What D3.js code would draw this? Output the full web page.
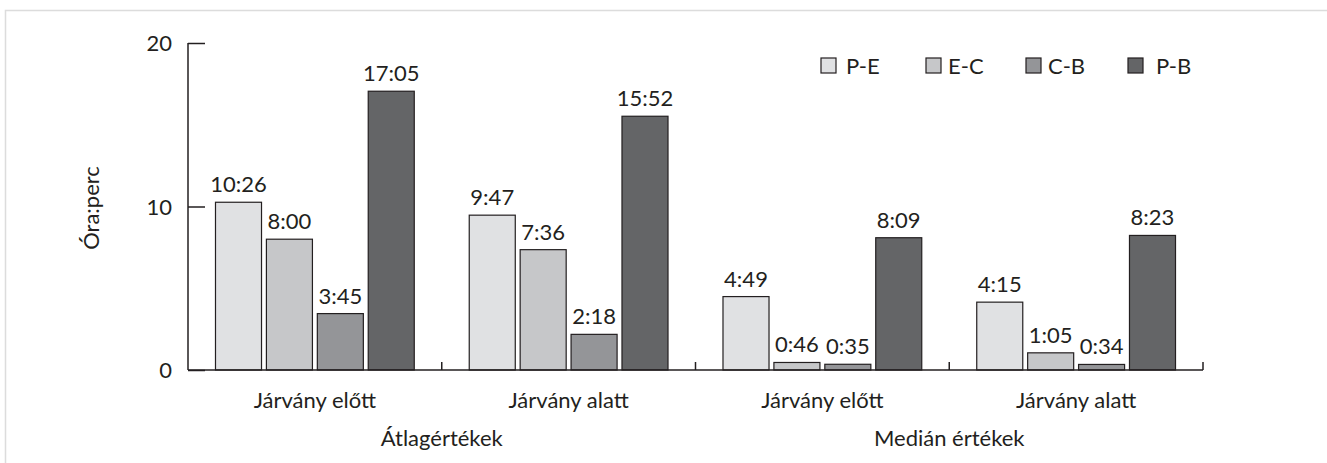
<!DOCTYPE html>
<html>
<head>
<meta charset="utf-8">
<script src="https://cdn.jsdelivr.net/npm/d3@7"></script>
<style>
  html, body { margin: 0; padding: 0; background: #fff; }
  svg { display: block; font-family: Lato, "Noto Sans", sans-serif; }
</style>
</head>
<body>
<svg id="chart" width="1327" height="463"></svg>
<script>
// Groups along the x axis and their parent headings
const categories = ["Járvány előtt", "Járvány alatt", "Járvány előtt", "Járvány alatt"];
const groupHeadings = ["Átlagértékek", "Medián értékek"];
const seriesNames = ["P-E", "E-C", "C-B", "P-B"];

// Values per series, hours.minutes (one entry per category)
const valuesPE = [10.26, 9.47, 4.49, 4.15];
const valuesEC = [8.00, 7.36, 0.46, 1.05];
const valuesCB = [3.45, 2.18, 0.35, 0.34];
const valuesPB = [17.05, 15.52, 8.09, 8.23];

const yTicks = [0, 10, 20];
const yTitle = "Óra:perc";

const seriesValues = [valuesPE, valuesEC, valuesCB, valuesPB];
const colors = ["#e0e1e3", "#c6c7c9", "#949598", "#646567"];

const svg = d3.select("#chart");
const W = 1327, H = 463;
const ink = "#231f20";

// light frame
svg.append("path")
  .attr("d", `M5.5,${H} V10.5 H${W}`)
  .attr("fill", "none")
  .attr("stroke", "#dcdcdc")
  .attr("stroke-width", 1.5);

const plotLeft = 188, plotRight = 1203, plotTop = 43, plotBottom = 370;

const x0 = d3.scaleBand().domain(d3.range(categories.length)).range([plotLeft, plotRight]).padding(0);
const x1 = d3.scaleBand().domain(d3.range(seriesNames.length)).range([0, x0.bandwidth()])
  .paddingInner(0.096).paddingOuter(0.54);
const y = d3.scaleLinear().domain([0, 20]).range([plotBottom, plotTop]);

const fmt = v => v.toFixed(2).replace(".", ":");

// bars
const g = svg.append("g");
categories.forEach((c, ci) => {
  seriesValues.forEach((vals, si) => {
    const v = vals[ci];
    const bx = x0(ci) + x1(si);
    g.append("rect")
      .attr("x", bx)
      .attr("y", y(v))
      .attr("width", x1.bandwidth())
      .attr("height", y(0) - y(v))
      .attr("fill", colors[si])
      .attr("stroke", ink)
      .attr("stroke-width", 1.2);
    g.append("text")
      .attr("x", bx + x1.bandwidth() / 2)
      .attr("y", y(v) - 10)
      .attr("text-anchor", "middle")
      .attr("font-size", 22)
      .attr("fill", ink)
      .text(fmt(v));
  });
});

// y axis: ticks pointing inward
const yAxis = d3.axisLeft(y).tickValues(yTicks).tickSize(-17).tickPadding(16).tickSizeOuter(0);
const ya = svg.append("g").attr("transform", `translate(${plotLeft},0)`).call(yAxis);
ya.select(".domain").attr("stroke", ink).attr("stroke-width", 1.5)
  .attr("d", `M0,${plotTop}V${plotBottom}`);
ya.selectAll(".tick line").attr("stroke", ink).attr("stroke-width", 1.5);
ya.selectAll(".tick text").attr("font-size", 22).attr("fill", ink)
  .attr("font-family", "Lato, 'Noto Sans', sans-serif").attr("dy", "0.36em");

// x axis: baseline with upward boundary ticks
const xa = svg.append("g");
xa.append("line").attr("x1", plotLeft).attr("x2", plotRight).attr("y1", plotBottom).attr("y2", plotBottom)
  .attr("stroke", ink).attr("stroke-width", 1.5);
d3.range(1, categories.length + 1).forEach(i => {
  const bx = x0(i - 1) + x0.bandwidth();
  xa.append("line").attr("x1", bx).attr("x2", bx).attr("y1", plotBottom).attr("y2", plotBottom - 8)
    .attr("stroke", ink).attr("stroke-width", 1.5);
});
categories.forEach((c, ci) => {
  xa.append("text")
    .attr("x", x0(ci) + x0.bandwidth() / 2)
    .attr("y", 408)
    .attr("text-anchor", "middle")
    .attr("font-size", 22)
    .attr("fill", ink)
    .text(c);
});
groupHeadings.forEach((h, hi) => {
  xa.append("text")
    .attr("x", x0(hi * 2) + x0.bandwidth())
    .attr("y", 446)
    .attr("text-anchor", "middle")
    .attr("font-size", 22)
    .attr("fill", ink)
    .text(h);
});

// y title
svg.append("text")
  .attr("transform", `translate(99,208) rotate(-90)`)
  .attr("text-anchor", "middle")
  .attr("font-size", 22)
  .attr("fill", ink)
  .text(yTitle);

// legend
const legendX = [821, 926, 1026, 1128];
const legendTextOffset = [25, 22, 22, 28];
const lg = svg.append("g");
seriesNames.forEach((n, i) => {
  lg.append("rect")
    .attr("x", legendX[i]).attr("y", 58)
    .attr("width", 15).attr("height", 15)
    .attr("fill", colors[i]).attr("stroke", ink).attr("stroke-width", 1.2);
  lg.append("text")
    .attr("x", legendX[i] + legendTextOffset[i]).attr("y", 73.5)
    .attr("font-size", 22).attr("fill", ink)
    .text(n);
});
</script>
</body>
</html>
